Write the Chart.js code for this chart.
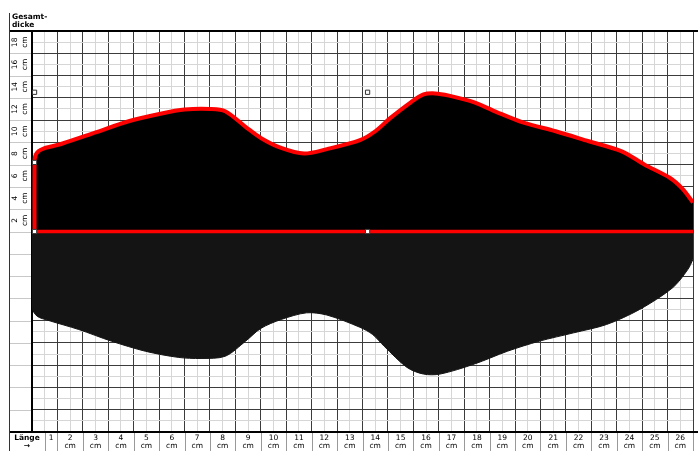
<!DOCTYPE html>
<html>
<head>
<meta charset="utf-8">
<script src="https://cdn.jsdelivr.net/npm/chart.js@4/dist/chart.umd.min.js"></script>
<style>
  body { margin: 0; background: #fff; }
  canvas { display: block; }
</style>
</head>
<body>
<canvas id="schuh" width="698" height="451"></canvas>
<script>
// Beschriftung unten (Länge) und links (Gesamtdicke)
const laengen = [1, 2, 3, 4, 5, 6, 7, 8, 9, 10, 11, 12, 13, 14, 15, 16, 17, 18, 19, 20, 21, 22, 23, 24, 25, 26];
const dicken = [2, 4, 6, 8, 10, 12, 14, 16, 18];

// Oberseite (schwarz mit rotem Rand) - x in cm
const obenX = [0.1, 0.1, 0.13, 0.25, 0.45, 0.8, 1.2, 2.5, 3.8, 5.1, 6.0, 7.0, 7.6, 8.4, 9.0, 9.8, 10.7, 11.6, 12.9, 13.5, 14.1, 14.9, 15.4, 15.85, 16.4, 17.4, 18.3, 19.3, 20.6, 21.9, 23.2, 24.1, 25.1, 25.6, 26.0];
const obenY = [0, 6.2, 6.8, 7.2, 7.45, 7.65, 7.9, 8.9, 9.9, 10.6, 10.95, 11.0, 10.8, 9.4, 8.4, 7.5, 7.0, 7.4, 8.2, 9.0, 10.2, 11.6, 12.3, 12.4, 12.2, 11.6, 10.7, 9.8, 9.0, 8.1, 7.2, 6.0, 4.8, 3.8, 2.6];

// Unterseite (dunkelgrau)
const untenX = [0, 0, 0.2, 0.67, 1.84, 3.13, 4.46, 5.75, 6.65, 7.6, 8.4, 9.0, 9.8, 10.8, 11.6, 12.9, 13.4, 13.85, 14.75, 15.4, 16.05, 17.4, 18.7, 19.95, 21.3, 22.6, 23.9, 25.2, 25.8, 26.0];
const untenY = [0, -6.8, -7.6, -8.0, -8.8, -9.85, -10.75, -11.3, -11.4, -11.2, -9.85, -8.7, -7.9, -7.3, -7.5, -8.6, -9.25, -10.3, -12.2, -12.8, -12.8, -11.9, -10.75, -9.85, -9.1, -8.35, -7.0, -5.05, -3.4, -2.5];

// Nulllinie und Markierungen
const nullX = [0.1, 26];
const nullY = [0, 0];
const markX = [0.1, 0.1, 0.1, 13.2, 13.2];
const markY = [0, 6.2, 12.5, 12.5, 0];

const punkte = (xs, ys) => xs.map((x, i) => ({ x: x, y: ys[i] }));

const schrift = '"DejaVu Sans", Verdana, sans-serif';

const rahmen = {
    id: 'rahmen',
    beforeDatasetsDraw(chart) {
        const { ctx, chartArea: a } = chart;
        ctx.save();
        ctx.strokeStyle = '#000';
        ctx.lineWidth = 2;
        ctx.beginPath();
        ctx.moveTo(9, a.top); ctx.lineTo(chart.width, a.top);
        ctx.moveTo(9, a.bottom); ctx.lineTo(chart.width, a.bottom);
        ctx.moveTo(a.left, a.top); ctx.lineTo(a.left, a.bottom);
        ctx.stroke();
        ctx.lineWidth = 1;
        ctx.strokeStyle = '#333';
        ctx.beginPath();
        ctx.moveTo(9.5, 13); ctx.lineTo(9.5, chart.height);
        ctx.stroke();
        ctx.restore();
    },
    afterDraw(chart) {
        const { ctx, chartArea: a, scales: { x, y } } = chart;
        ctx.save();
        // Trennlinien in der linken Spalte
        ctx.strokeStyle = '#c8c8c8';
        ctx.lineWidth = 1;
        ctx.beginPath();
        for (let v = -16; v <= 16; v += 2) {
            const py = Math.round(y.getPixelForValue(v)) + 0.5;
            ctx.moveTo(10, py); ctx.lineTo(a.left - 1, py);
        }
        ctx.stroke();
        // Trennlinien unten
        ctx.strokeStyle = '#999';
        ctx.beginPath();
        const trenner = [0.5].concat(laengen);
        trenner.forEach(v => {
            const px = Math.round(x.getPixelForValue(v)) + 0.5;
            ctx.moveTo(px, a.bottom + 1); ctx.lineTo(px, chart.height);
        });
        ctx.stroke();

        ctx.fillStyle = '#000';
        ctx.textAlign = 'center';
        ctx.textBaseline = 'middle';
        ctx.font = '7.5px ' + schrift;
        laengen.forEach(k => {
            if (k === 1) {
                ctx.fillText('1', x.getPixelForValue(0.75), a.bottom + 6);
            } else {
                const px = x.getPixelForValue(k - 0.5);
                ctx.fillText(String(k), px, a.bottom + 6);
                ctx.fillText('cm', px, a.bottom + 14);
            }
        });
        dicken.forEach(d => {
            ctx.save();
            ctx.translate(20.5, y.getPixelForValue(d - 1));
            ctx.rotate(-Math.PI / 2);
            ctx.fillText(String(d), 0, -5);
            ctx.fillText('cm', 0, 5);
            ctx.restore();
        });
        ctx.font = 'bold 7.5px ' + schrift;
        ctx.fillText('Länge', 27, a.bottom + 6);
        ctx.fillText('→', 27, a.bottom + 14);
        ctx.textAlign = 'left';
        ctx.fillText('Gesamt-', 12, 17);
        ctx.fillText('dicke', 12, 25);
        ctx.restore();
    }
};

const config = {
    type: 'scatter',
    data: {
        datasets: [
            {
                data: punkte(markX, markY),
                pointStyle: 'rect',
                pointRadius: 3,
                pointBackgroundColor: '#fff',
                pointBorderColor: '#333',
                pointBorderWidth: 1,
                showLine: false,
                order: 0
            },
            {
                data: punkte(nullX, nullY),
                showLine: true,
                borderColor: '#ff0000',
                borderWidth: 3.5,
                pointRadius: 0,
                fill: false,
                order: 1
            },
            {
                data: punkte(obenX, obenY),
                showLine: true,
                borderColor: '#ff0000',
                borderWidth: 4,
                backgroundColor: '#000',
                fill: 'origin',
                tension: 0.3,
                pointRadius: 0,
                order: 2
            },
            {
                data: punkte(untenX, untenY),
                showLine: true,
                borderColor: '#141414',
                borderWidth: 1,
                backgroundColor: '#141414',
                fill: 'origin',
                tension: 0.3,
                pointRadius: 0,
                order: 3
            }
        ]
    },
    options: {
        responsive: false,
        animation: false,
        layout: { padding: { left: 32, top: 31, right: 1, bottom: 19 } },
        plugins: { legend: { display: false }, tooltip: { enabled: false } },
        scales: {
            x: {
                type: 'linear',
                min: 0,
                max: 26,
                ticks: { display: false, stepSize: 0.5 },
                border: { display: false },
                grid: {
                    drawTicks: false,
                    color: (c) => (c.tick.value % 1 === 0 ? '#3c3c3c' : '#d6d6d6'),
                    lineWidth: 1
                }
            },
            y: {
                type: 'linear',
                min: -18,
                max: 18,
                ticks: { display: false, stepSize: 1 },
                border: { display: false },
                grid: {
                    drawTicks: false,
                    color: (c) => (c.tick.value % 2 === 0 ? '#3c3c3c' : '#d6d6d6'),
                    lineWidth: 1
                }
            }
        }
    },
    plugins: [rahmen]
};

new Chart(document.getElementById('schuh'), config);
</script>
</body>
</html>
